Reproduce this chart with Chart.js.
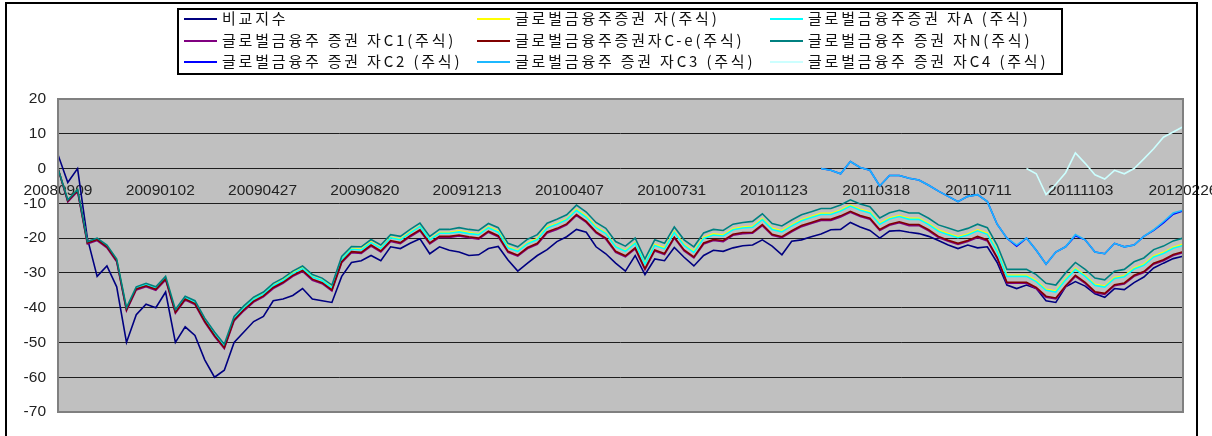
<!DOCTYPE html>
<html><head><meta charset="utf-8">
<script src="https://cdn.jsdelivr.net/npm/chart.js@4.4.0/dist/chart.umd.min.js"></script>
<style>
html,body{margin:0;padding:0;background:#fff;}
#wrap{position:relative;width:1212px;height:436px;overflow:hidden;background:#fff;}
#c{position:absolute;left:0;top:0;}
#frame{position:absolute;left:5px;top:2px;width:1193px;height:460px;border:2px solid #000;box-sizing:border-box;pointer-events:none;}
#legendBox{position:absolute;left:177px;top:8px;width:886px;height:67px;border:2px solid #000;box-sizing:border-box;background:#fff;}
.item{position:absolute;height:20px;font-family:"Noto Sans CJK KR","Noto Sans";font-size:15px;letter-spacing:2.8px;color:#111;white-space:nowrap;line-height:20px;}
.item i{position:absolute;left:0;top:9px;width:33px;height:2px;}
.item span{position:absolute;left:38px;top:-1px;}
</style>
</head><body>
<div id="wrap">
<canvas id="c" width="1212" height="436"></canvas>
<div id="frame"></div>
<div id="legendBox"></div>
<div id="legend"></div>
</div>
<script>
// ---- data (sampled every 11 calendar days from 20080909) ----
const tickLabels = ['20080909','20090102','20090427','20090820','20091213','20100407','20100731','20101123','20110318','20110711','20111103','20120226'];
const seriesNames = ['비교지수','글로벌금융주증권 자(주식)','글로벌금융주증권 자A (주식)','글로벌금융주 증권 자C1(주식)','글로벌금융주증권자C-e(주식)','글로벌금융주 증권 자N(주식)','글로벌금융주 증권 자C2 (주식)','글로벌금융주 증권 자C3 (주식)','글로벌금융주 증권 자C4 (주식)'];
const seriesColors = ['#000080','#FFFF00','#00FFFF','#800080','#800000','#008080','#0000FF','#1CB8FF','#CCFFFF'];

const benchmark = [4,-4,0,-20,-31,-28,-34,-50,-42,-39,-40,-35.5,-50,-45.5,-48,-55,-60,-58,-50,-47,
-44,-42.5,-38,-37.5,-36.5,-34.5,-37.5,-38,-38.5,-31,-27,-26.5,-25,-26.5,-22.5,-23,-21.5,-20.2,-24.5,-22.5,
-23.5,-24,-25,-24.8,-23,-22.4,-26.3,-29.5,-27.2,-25,-23.3,-21,-19.6,-17.5,-18.3,-22.5,-24.5,-27.2,-29.5,-25,
-30.5,-26,-26.5,-22.7,-25.5,-28,-25,-23.5,-23.8,-22.8,-22.2,-22,-20.5,-22.3,-24.8,-20.9,-20.5,-19.6,-18.8,-17.6,
-17.5,-15.5,-16.8,-17.8,-20,-18,-17.8,-18.3,-18.7,-19.5,-20.7,-22,-23,-22,-22.8,-22.5,-27,-33.5,-34.5,-33.5,
-34.5,-38,-38.5,-34,-32.5,-33.8,-36,-37,-34.5,-34.8,-32.8,-31.2,-28.6,-27.2,-25.9,-25.2];

const fundBase = [0,-9.1,-6.1,-21.2,-20.2,-22.2,-26.2,-40.3,-34.3,-33.3,-34.3,-31.3,-40.9,-37.1,-38.4,-43.4,-47.5,-51,-43,-40,
-37.5,-36,-33.5,-32,-30,-28.6,-31.1,-32.1,-34.1,-26,-23.1,-23.2,-21.1,-22.8,-19.8,-20.3,-18.3,-16.6,-20.4,-18.4,
-18.4,-17.9,-18.4,-18.8,-16.8,-18,-22.5,-23.6,-21.4,-20.1,-16.8,-15.8,-14.5,-11.7,-13.7,-16.7,-18.5,-22.3,-23.6,-21.3,
-27.3,-21.8,-22.8,-18.1,-21.8,-23.8,-19.8,-18.8,-19.1,-17.3,-16.8,-16.6,-14.4,-17.2,-17.9,-16.2,-14.7,-13.8,-12.9,-12.9,
-11.9,-10.5,-11.7,-12.5,-15.7,-14.2,-13.5,-14.3,-14.3,-15.8,-17.7,-18.7,-19.6,-18.8,-17.6,-18.6,-23.6,-30.7,-30.7,-30.7,
-32.2,-34.7,-35.2,-31.7,-28.7,-30.7,-33.3,-33.8,-31.3,-30.8,-28.6,-27.5,-25.1,-24.1,-22.6,-21.8];

const fundA = [0,-9.2,-6.2,-21.2,-20.2,-22.3,-26.3,-40.3,-34.3,-33.4,-34.4,-31.4,-40.9,-37.1,-38.4,-43.5,-47.6,-51.1,-43.1,-40.1,
-37.6,-36.1,-33.7,-32.2,-30.2,-28.7,-31.2,-32.2,-34.3,-26.1,-23.2,-23.4,-21.3,-22.9,-19.9,-20.5,-18.5,-16.7,-20.5,-18.6,
-18.6,-18.2,-18.7,-19,-17,-18.3,-22.8,-23.8,-21.6,-20.4,-17.1,-16,-14.7,-12,-14,-17,-18.7,-22.5,-23.8,-21.5,
-27.5,-22.1,-23.1,-18.4,-22.1,-24.1,-20.1,-19.1,-19.4,-17.6,-17.1,-16.9,-14.7,-17.5,-18.2,-16.5,-15,-14.1,-13.2,-13.2,
-12.2,-10.8,-12,-12.8,-16,-14.5,-13.8,-14.6,-14.6,-16.1,-18,-19,-19.9,-19.1,-17.9,-18.9,-23.9,-31,-31,-31,
-32.5,-35,-35.5,-32,-29,-31,-33.6,-34.1,-31.6,-31.1,-28.9,-27.8,-25.4,-24.4,-22.9,-22.1];

const fundC1 = [0,-9.6,-6.6,-21.7,-20.7,-22.8,-26.8,-40.9,-34.9,-34,-35,-32,-41.6,-37.8,-39.1,-44.2,-48.3,-51.8,-43.8,-40.9,
-38.4,-36.9,-34.5,-33,-31,-29.6,-32.1,-33.1,-35.2,-27.1,-24.2,-24.4,-22.3,-24,-21,-21.6,-19.6,-17.9,-21.7,-19.8,
-19.8,-19.4,-19.9,-20.3,-18.3,-19.6,-24.1,-25.2,-23,-21.8,-18.5,-17.5,-16.2,-13.5,-15.5,-18.5,-20.3,-24.1,-25.4,-23.1,
-29.1,-23.7,-24.7,-20,-23.7,-25.7,-21.7,-20.7,-21,-19.2,-18.7,-18.6,-16.4,-19.2,-19.9,-18.2,-16.7,-15.8,-14.9,-14.9,
-13.9,-12.6,-13.8,-14.6,-17.8,-16.3,-15.6,-16.4,-16.4,-17.9,-19.8,-20.9,-21.8,-21,-19.8,-20.8,-25.8,-33,-33,-33,
-34.5,-37,-37.5,-34,-31,-33,-35.7,-36.2,-33.7,-33.2,-31,-29.9,-27.5,-26.5,-25,-24.2];

const fundCe = [0,-9.3,-6.3,-21.4,-20.4,-22.5,-26.5,-40.6,-34.6,-33.7,-34.7,-31.7,-41.3,-37.5,-38.8,-43.9,-48,-51.5,-43.5,-40.6,
-38.1,-36.6,-34.2,-32.7,-30.7,-29.3,-31.8,-32.8,-34.9,-26.8,-23.9,-24.1,-22,-23.7,-20.7,-21.3,-19.3,-17.6,-21.4,-19.5,
-19.5,-19.1,-19.6,-20,-18,-19.3,-23.8,-24.9,-22.7,-21.5,-18.2,-17.2,-15.9,-13.2,-15.2,-18.2,-20,-23.8,-25.1,-22.8,
-28.8,-23.4,-24.4,-19.7,-23.4,-25.4,-21.4,-20.4,-20.7,-18.9,-18.4,-18.3,-16.1,-18.9,-19.6,-17.9,-16.4,-15.5,-14.6,-14.6,
-13.6,-12.3,-13.5,-14.3,-17.5,-16,-15.3,-16.1,-16.1,-17.6,-19.5,-20.6,-21.5,-20.7,-19.5,-20.5,-25.5,-32.7,-32.7,-32.7,
-34.2,-36.7,-37.2,-33.7,-30.7,-32.7,-35.4,-35.9,-33.4,-32.9,-30.7,-29.6,-27.2,-26.2,-24.7,-23.9];

const fundN = [0,-9,-6,-21,-20,-22,-26,-40,-34,-33,-34,-31,-40.5,-36.7,-38,-43,-47,-50.5,-42.5,-39.5,
-37,-35.5,-33,-31.5,-29.5,-28,-30.5,-31.5,-33.5,-25.3,-22.4,-22.5,-20.4,-22,-19,-19.5,-17.5,-15.7,-19.5,-17.5,
-17.5,-17,-17.5,-17.8,-15.8,-17,-21.5,-22.5,-20.3,-19,-15.7,-14.6,-13.3,-10.5,-12.5,-15.5,-17.2,-21,-22.3,-20,
-26,-20.5,-21.5,-16.8,-20.5,-22.5,-18.5,-17.5,-17.8,-16,-15.5,-15.2,-13,-15.8,-16.5,-14.8,-13.3,-12.4,-11.5,-11.5,
-10.5,-9,-10.2,-11,-14.2,-12.7,-12,-12.8,-12.8,-14.3,-16.2,-17.1,-18,-17.2,-16,-17,-22,-29,-29,-29,
-30.5,-33,-33.5,-30,-27,-29,-31.5,-32,-29.5,-29,-26.8,-25.7,-23.3,-22.3,-20.8,-20];

// C2 and C3 start at sample 78, C4 at sample 99
const fundC2Start = 78;
const fundC2 = [0,-0.5,-1.5,2,0.3,-0.5,-5,-2,-2,-2.8,-3.3,-4.8,-6.5,-8,-9.5,-8,-7.5,-9.5,-16,-20,
-22.3,-20,-23.5,-27.5,-24,-22.5,-19.3,-20.5,-24,-24.5,-21.5,-22.5,-22,-19.5,-17.8,-15.6,-13.1,-12.2];
const fundC3Start = 78;
const fundC3 = [0,-0.5,-1.5,2,0.3,-0.5,-5,-2,-2,-2.8,-3.3,-4.8,-6.5,-8,-9.5,-8,-7.5,-9.5,-16,-20,
-22,-20,-23.5,-27.5,-24,-22.5,-19,-20.5,-24,-24.5,-21.5,-22.5,-22,-19.5,-17.6,-15.3,-12.8,-12];
const fundC4Start = 99;
const fundC4 = [0,-1.5,-7.5,-4.5,-1.2,4.5,1.5,-1.8,-3,-0.5,-1.5,0,2.8,5.7,9,10.5,12];

const DAYS_PER_SAMPLE = 11;
const DAYS_PER_LABEL = 115;

function toPoints(values, start) {
  return values.map((v, k) => ({ x: (start + k) * DAYS_PER_SAMPLE, y: v }));
}
const seriesValues = [
  [benchmark, 0], [fundBase, 0], [fundA, 0], [fundC1, 0], [fundCe, 0], [fundN, 0],
  [fundC2, fundC2Start], [fundC3, fundC3Start], [fundC4, fundC4Start]
];
const datasets = seriesValues.map(([vals, start], i) => ({
  label: seriesNames[i],
  data: toPoints(vals, start),
  borderColor: seriesColors[i],
  backgroundColor: seriesColors[i],
  borderWidth: 1.6,
  pointRadius: 0,
  tension: 0,
  fill: false,
  order: seriesValues.length - i
}));

// HTML legend
const legendPos = [[184,19],[477,19],[770,19],[184,41],[477,41],[770,41],[184,62],[477,62],[770,62]];
const lg = document.getElementById('legend');
seriesNames.forEach((n, i) => {
  const d = document.createElement('div');
  d.className = 'item';
  d.style.left = legendPos[i][0] + 'px';
  d.style.top = (legendPos[i][1] - 10) + 'px';
  const line = document.createElement('i');
  line.style.background = seriesColors[i];
  const t = document.createElement('span');
  t.textContent = n;
  d.appendChild(line); d.appendChild(t);
  lg.appendChild(d);
});

const plotFrame = {
  id: 'plotFrame',
  beforeDraw(c) {
    const a = c.chartArea, g = c.ctx;
    g.save(); g.fillStyle = '#C0C0C0';
    g.fillRect(a.left, a.top, a.right - a.left, a.bottom - a.top);
    g.restore();
  },
  afterDraw(c) {
    const a = c.chartArea, g = c.ctx;
    g.save(); g.strokeStyle = '#808080'; g.lineWidth = 2;
    g.strokeRect(a.left, a.top, a.right - a.left, a.bottom - a.top);
    g.restore();
  }
};

const tickFont = { family: "'Liberation Sans', Arial, sans-serif", size: 15.5 };
new Chart(document.getElementById('c'), {
  type: 'line',
  data: { datasets },
  options: {
    responsive: false,
    animation: false,
    events: [],
    layout: { padding: { left: 0, right: 29, top: 99, bottom: 24 } },
    plugins: { legend: { display: false }, tooltip: { enabled: false } },
    scales: {
      x: {
        type: 'linear',
        position: { y: 0 },
        min: 0,
        max: (tickLabels.length - 1) * DAYS_PER_LABEL,
        ticks: {
          stepSize: DAYS_PER_LABEL,
          maxTicksLimit: tickLabels.length,
          autoSkip: false,
          maxRotation: 0,
          minRotation: 0,
          padding: 13,
          color: '#222',
          font: tickFont,
          callback: v => tickLabels[Math.round(v / DAYS_PER_LABEL)]
        },
        grid: { display: false, drawTicks: false },
        border: { display: false },
        afterFit: s => { s.paddingLeft = 0; s.paddingRight = 0; }
      },
      y: {
        min: -70,
        max: 20,
        ticks: { stepSize: 10, padding: 12, color: '#222', font: tickFont },
        grid: { color: '#1e1e1e', lineWidth: 1, drawTicks: false },
        border: { display: false },
        afterFit: s => { s.width = 58; }
      }
    }
  },
  plugins: [plotFrame]
});
</script>
</body></html>
